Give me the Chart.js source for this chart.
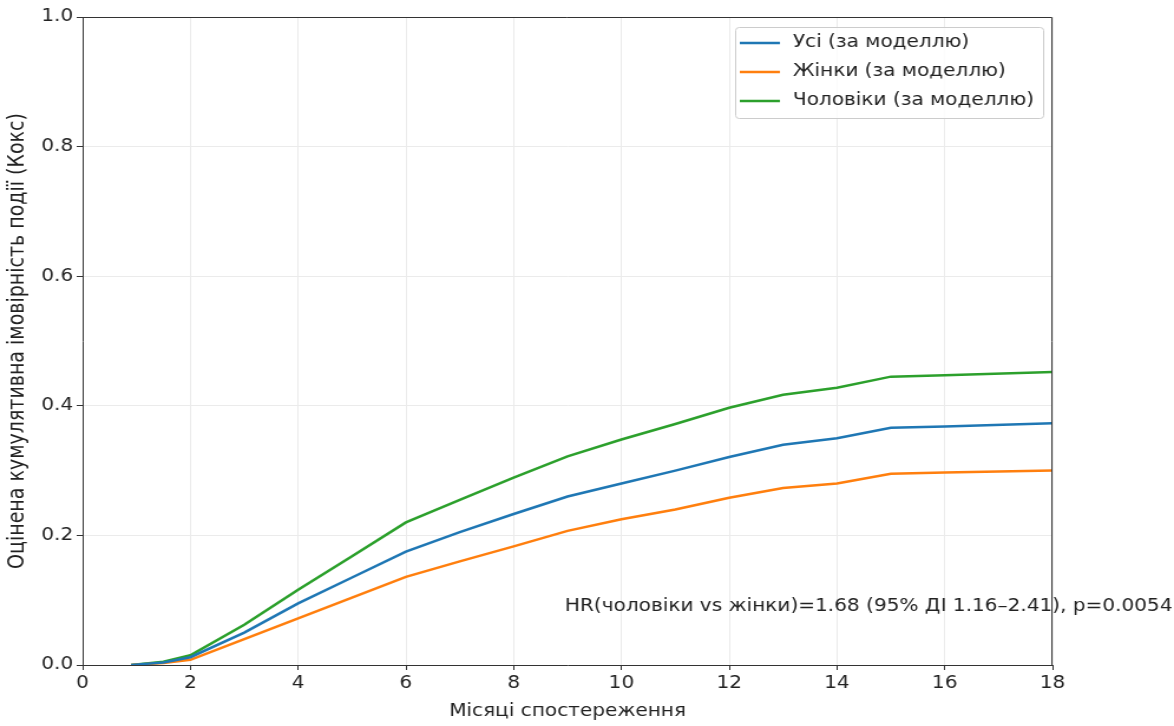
<!DOCTYPE html>
<html>
<head>
<meta charset="utf-8">
<script src="https://cdn.jsdelivr.net/npm/chart.js@4"></script>
<style>
  html, body { margin: 0; padding: 0; background: #fff; overflow: hidden; }
  /* the reference is stretched sideways; draw narrower and widen the whole figure */
  #wrap { width: 995px; height: 726px; transform: scaleX(1.1799); transform-origin: 0 0; }
</style>
</head>
<body>
<div id="wrap"><canvas id="graph" width="995" height="726"></canvas></div>
<script>
const graphRef = document.getElementById('graph');

// months of follow-up
const months = [0.9, 1.5, 2, 3, 4, 5, 6, 7, 8, 9, 10, 11, 12, 13, 14, 15, 16, 18];

const allValues = [0, 0.004, 0.012, 0.05, 0.095, 0.135, 0.175, 0.205, 0.233, 0.26, 0.28, 0.3, 0.321, 0.34, 0.35, 0.366, 0.368, 0.373];
const womenValues = [0, 0.003, 0.008, 0.04, 0.072, 0.104, 0.136, 0.16, 0.183, 0.207, 0.225, 0.24, 0.258, 0.273, 0.28, 0.295, 0.297, 0.30];
const menValues = [0, 0.005, 0.015, 0.062, 0.116, 0.168, 0.22, 0.255, 0.289, 0.322, 0.348, 0.372, 0.397, 0.417, 0.428, 0.445, 0.447, 0.452];

const seriesLabels = ['Усі (за моделлю)', 'Жінки (за моделлю)', 'Чоловіки (за моделлю)'];
const seriesColors = ['#1f77b4', '#ff7f0e', '#2ca02c'];

const xTicks = [0, 2, 4, 6, 8, 10, 12, 14, 16, 18];
const yTicks = [0, 0.2, 0.4, 0.6, 0.8, 1.0];

const hrText = 'HR(чоловіки vs жінки)=1.68 (95% ДІ 1.16–2.41), p=0.0054';
const hrPos = { x: 8.95, y: 0.09 };

const FONT = 'DejaVu Sans';
const FS = 17;

function toPoints(values) {
  return months.map((m, i) => ({ x: m, y: values[i] }));
}

// frame on top/right, legend box and the HR note
const extrasPlugin = {
  id: 'extras',
  afterDraw(chart) {
    const { ctx, chartArea: a, scales } = chart;
    ctx.save();
    ctx.strokeStyle = '#333';
    ctx.lineWidth = 1;
    ctx.beginPath();
    ctx.moveTo(a.left, a.top + 0.5);
    ctx.lineTo(a.right - 0.5, a.top + 0.5);
    ctx.lineTo(a.right - 0.5, a.bottom);
    ctx.stroke();

    // note
    ctx.fillStyle = '#222';
    ctx.font = `${FS}px "${FONT}"`;
    ctx.textBaseline = 'middle';
    ctx.fillText(hrText, scales.x.getPixelForValue(hrPos.x), scales.y.getPixelForValue(hrPos.y));

    // legend
    const bx = 623, by = 27, bw = 261, bh = 91;
    ctx.fillStyle = 'rgba(255,255,255,0.8)';
    ctx.strokeStyle = '#cccccc';
    ctx.lineWidth = 1;
    ctx.beginPath();
    ctx.roundRect(bx + 0.5, by + 0.5, bw, bh, 3);
    ctx.fill();
    ctx.stroke();
    chart.data.datasets.forEach((ds, i) => {
      const y = by + 16 + i * 29;
      ctx.strokeStyle = ds.borderColor;
      ctx.lineWidth = 2.5;
      ctx.beginPath();
      ctx.moveTo(bx + 4, y);
      ctx.lineTo(bx + 38, y);
      ctx.stroke();
      ctx.fillStyle = '#222';
      ctx.fillText(ds.label, bx + 49, y);
    });
    ctx.restore();
  },
};

new Chart(graphRef, {
  type: 'line',
  data: {
    datasets: [
      { label: seriesLabels[0], data: toPoints(allValues), borderColor: seriesColors[0] },
      { label: seriesLabels[1], data: toPoints(womenValues), borderColor: seriesColors[1] },
      { label: seriesLabels[2], data: toPoints(menValues), borderColor: seriesColors[2] },
    ].map((d) => ({ ...d, borderWidth: 2.5, pointRadius: 0, tension: 0, fill: false })),
  },
  options: {
    responsive: false,
    animation: false,
    layout: { padding: { left: 0, right: 103, top: 17, bottom: 0 } },
    plugins: {
      legend: { display: false },
      tooltip: { enabled: false },
    },
    scales: {
      x: {
        type: 'linear',
        min: 0,
        max: 18,
        afterBuildTicks: (scale) => { scale.ticks = xTicks.map((v) => ({ value: v })); },
        afterFit: (scale) => { scale.height = 61; },
        ticks: { color: '#222', font: { family: FONT, size: FS }, padding: 3, maxRotation: 0 },
        grid: { color: '#ebebeb', tickColor: '#333', tickLength: 5 },
        border: { color: '#333' },
        title: { display: true, text: 'Місяці спостереження', color: '#222', font: { family: FONT, size: FS }, padding: { top: 0 } },
      },
      y: {
        min: 0,
        max: 1,
        afterBuildTicks: (scale) => { scale.ticks = yTicks.map((v) => ({ value: v })); },
        afterFit: (scale) => { scale.width = 70; },
        ticks: { color: '#222', font: { family: FONT, size: FS }, padding: 3, callback: (v) => v.toFixed(1) },
        grid: { color: '#ebebeb', tickColor: '#333', tickLength: 5 },
        border: { color: '#333' },
        title: { display: true, text: 'Оцінена кумулятивна імовірність події (Кокс)', color: '#222', font: { family: FONT, size: 19 }, padding: { bottom: 3 } },
      },
    },
  },
  plugins: [extrasPlugin],
});
</script>
</body>
</html>
